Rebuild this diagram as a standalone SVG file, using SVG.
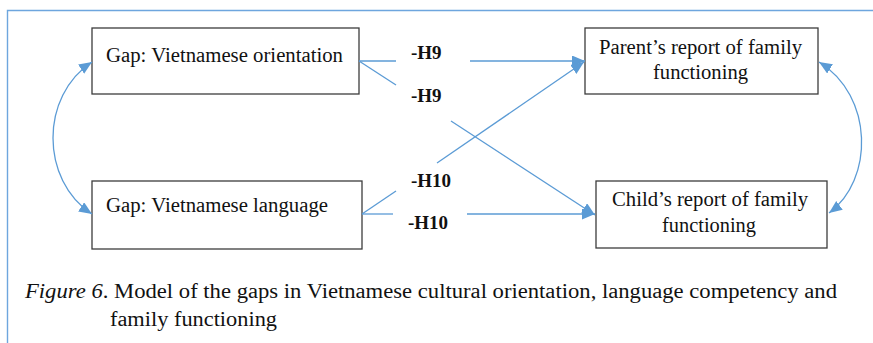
<svg xmlns="http://www.w3.org/2000/svg" width="873" height="343" viewBox="0 0 873 343">
  <style>
    .box { fill: #ffffff; stroke: #3c3c3c; stroke-width: 1.3; }
    .lbl { font-family: "Liberation Serif", "Times New Roman", serif; font-size: 20px; fill: #111111; }
    .hyp { font-family: "Liberation Serif", "Times New Roman", serif; font-size: 19px; font-weight: bold; fill: #111111; }
    .edge { fill: none; stroke: #5b9bd5; stroke-width: 1.3; }
    .frame { stroke: #6ea6de; stroke-width: 1.4; fill: none; }
    .cap { font-family: "Liberation Serif", "Times New Roman", serif; font-size: 20.5px; fill: #111111; }
  </style>
  <defs>
    <marker id="arrow" markerUnits="userSpaceOnUse" markerWidth="14" markerHeight="12" refX="13" refY="5.5" orient="auto-start-reverse">
      <path d="M0,0 L13,5.5 L0,11 Z" fill="#5b9bd5"/>
    </marker>
  </defs>

  <rect width="873" height="343" fill="#ffffff"/>

  <!-- page frame -->
  <path class="frame" d="M7.5,343 L7.5,10.5 L873,10.5"/>

  <!-- nodes -->
  <g id="gap-orientation">
    <rect class="box" x="92" y="28" width="267" height="66"/>
    <text class="lbl" x="106" y="62" textLength="237" lengthAdjust="spacingAndGlyphs">Gap: Vietnamese orientation</text>
  </g>
  <g id="gap-language">
    <rect class="box" x="92" y="181" width="270" height="68"/>
    <text class="lbl" x="106" y="212" textLength="222" lengthAdjust="spacingAndGlyphs">Gap: Vietnamese language</text>
  </g>
  <g id="parent-report">
    <rect class="box" x="585" y="28" width="233" height="66"/>
    <text class="lbl" x="599" y="54" textLength="203" lengthAdjust="spacingAndGlyphs">Parent’s report of family</text>
    <text class="lbl" x="653" y="79" textLength="95" lengthAdjust="spacingAndGlyphs">functioning</text>
  </g>
  <g id="child-report">
    <rect class="box" x="596" y="181" width="231" height="67"/>
    <text class="lbl" x="612" y="206" textLength="196" lengthAdjust="spacingAndGlyphs">Child’s report of family</text>
    <text class="lbl" x="662" y="232" textLength="94" lengthAdjust="spacingAndGlyphs">functioning</text>
  </g>

  <!-- connectors -->
  <g id="connectors">
    <!-- orientation gap to parent report -->
    <line class="edge" x1="359" y1="61" x2="396" y2="61"/>
    <line class="edge" x1="470" y1="61" x2="585" y2="61" marker-end="url(#arrow)"/>
    <!-- orientation gap to child report -->
    <line class="edge" x1="359" y1="61" x2="396" y2="85"/>
    <line class="edge" x1="451" y1="121" x2="595" y2="215" marker-end="url(#arrow)"/>
    <!-- language gap to parent report -->
    <line class="edge" x1="362" y1="214" x2="396" y2="191"/>
    <line class="edge" x1="437" y1="163" x2="584" y2="62" marker-end="url(#arrow)"/>
    <!-- language gap to child report -->
    <line class="edge" x1="362" y1="214" x2="393" y2="214"/>
    <line class="edge" x1="467" y1="214" x2="595" y2="214" marker-end="url(#arrow)"/>
    <!-- covariances -->
    <path class="edge" d="M92,62 C40,96 40,180 92,214" marker-start="url(#arrow)" marker-end="url(#arrow)"/>
    <path class="edge" d="M819,62 C874,96 874,180 829,213" marker-start="url(#arrow)" marker-end="url(#arrow)"/>
  </g>

  <!-- path labels -->
  <g id="labels">
    <text class="hyp" x="411" y="59">-H9</text>
    <text class="hyp" x="411" y="102">-H9</text>
    <text class="hyp" x="411" y="187">-H10</text>
    <text class="hyp" x="408" y="229">-H10</text>
  </g>

  <!-- caption -->
  <text class="cap" x="25" y="298" textLength="812" lengthAdjust="spacingAndGlyphs"><tspan font-style="italic">Figure 6</tspan>. Model of the gaps in Vietnamese cultural orientation, language competency and</text>
  <text class="cap" x="110" y="326" textLength="167" lengthAdjust="spacingAndGlyphs">family functioning</text>
</svg>
